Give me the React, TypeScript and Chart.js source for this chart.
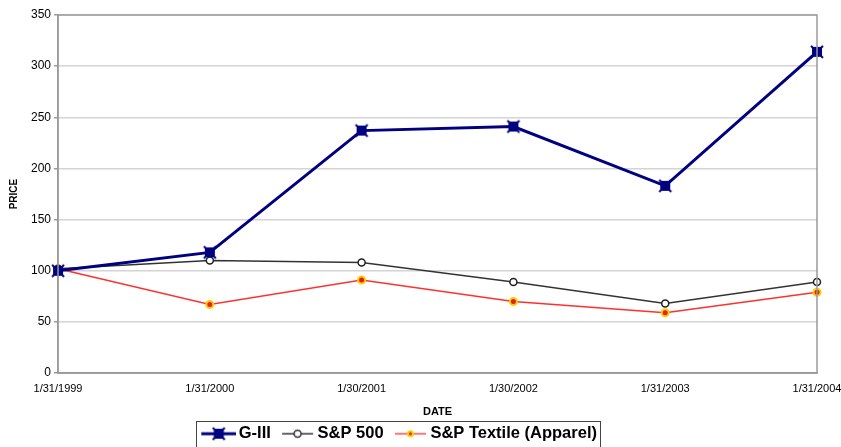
import React, { useEffect, useRef } from "react";
import { Chart, registerables } from "chart.js";

Chart.register(...registerables);

const categories = ["1/31/1999", "1/31/2000", "1/30/2001", "1/30/2002", "1/31/2003", "1/31/2004"];
const g3Values = [100, 118, 237, 241, 183, 314];
const sp500Values = [102, 110, 108, 89, 68, 89];
const textileValues = [102, 67, 91, 70, 59, 79];
const yTicks = [0, 50, 100, 150, 200, 250, 300, 350];

const NAVY = "#000080";

function drawG3Marker(ctx: CanvasRenderingContext2D, cx: number, cy: number) {
  ctx.fillStyle = NAVY;
  ctx.fillRect(cx - 5, cy - 5, 10, 10);
  ctx.strokeStyle = NAVY;
  ctx.lineWidth = 2;
  ctx.beginPath();
  ctx.moveTo(cx - 6, cy - 6); ctx.lineTo(cx + 6, cy + 6);
  ctx.moveTo(cx + 6, cy - 6); ctx.lineTo(cx - 6, cy + 6);
  ctx.stroke();
}

function g3Point(): HTMLCanvasElement {
  const c = document.createElement("canvas");
  c.width = 16; c.height = 16;
  drawG3Marker(c.getContext("2d")!, 8, 8);
  return c;
}

function legendIcon(kind: string): HTMLCanvasElement {
  const c = document.createElement("canvas");
  const w = 46, h = 16;
  c.width = w; c.height = h;
  const ctx = c.getContext("2d")!;
  const cy = h / 2;
  const x0 = 11, x1 = 46, mid = (x0 + x1) / 2;
  if (kind === "g3") {
    ctx.strokeStyle = NAVY; ctx.lineWidth = 3;
    ctx.beginPath(); ctx.moveTo(x0, cy); ctx.lineTo(x1, cy); ctx.stroke();
    drawG3Marker(ctx, mid, cy);
  } else if (kind === "sp") {
    ctx.strokeStyle = "#333333"; ctx.lineWidth = 1.5;
    ctx.beginPath(); ctx.moveTo(x0 + 2, cy); ctx.lineTo(x1 - 2, cy); ctx.stroke();
    ctx.fillStyle = "#ffffff";
    ctx.beginPath(); ctx.arc(mid, cy, 3.5, 0, Math.PI * 2); ctx.fill(); ctx.stroke();
  } else {
    ctx.strokeStyle = "#ff4a4a"; ctx.lineWidth = 1.5;
    ctx.beginPath(); ctx.moveTo(x0 + 2, cy); ctx.lineTo(x1 - 2, cy); ctx.stroke();
    ctx.fillStyle = "#ffcc00";
    ctx.beginPath(); ctx.arc(mid, cy, 3.5, 0, Math.PI * 2); ctx.fill();
    ctx.fillStyle = "#e02020";
    ctx.beginPath(); ctx.arc(mid, cy, 1.5, 0, Math.PI * 2); ctx.fill();
  }
  return c;
}

const framePlugin = {
  id: "frame",
  afterLayout(chart: any) {
    const lg = chart.legend;
    if (!lg) return;
    const dx = -16, dy = 1;
    lg.left += dx; lg.right += dx;
    lg.top += dy; lg.bottom += dy;
  },
  afterDatasetsDraw(chart: any) {
    const { ctx, chartArea } = chart;
    ctx.save();
    ctx.strokeStyle = "#9a9a9a";
    ctx.lineWidth = 1.5;
    ctx.strokeRect(chartArea.left, chartArea.top, chartArea.right - chartArea.left, chartArea.bottom - chartArea.top);
    ctx.restore();
  },
  afterDraw(chart: any) {
    const lg = chart.legend;
    if (!lg || !lg.legendHitBoxes || !lg.legendHitBoxes.length) return;
    const boxes = lg.legendHitBoxes;
    let l = Infinity, r = -Infinity, t = Infinity;
    for (const b of boxes) {
      l = Math.min(l, b.left);
      r = Math.max(r, b.left + b.width);
      t = Math.min(t, b.top);
    }
    const { ctx } = chart;
    ctx.save();
    ctx.strokeStyle = "#444444";
    ctx.lineWidth = 1;
    ctx.strokeRect(Math.round(l) + 0.5, Math.round(t - 5) + 0.5, Math.round(r - l + 3), 40);
    ctx.restore();
  },
};

export default function App() {
  const ref = useRef<HTMLCanvasElement>(null);
  useEffect(() => {
    document.body.style.margin = "0";
    const icons = [legendIcon("g3"), legendIcon("sp"), legendIcon("tx")];
    const chart = new Chart(ref.current!, {
      type: "line",
      data: {
        labels: categories,
        datasets: [
          {
            label: "G-III",
            data: g3Values,
            borderColor: NAVY,
            backgroundColor: NAVY,
            borderWidth: 3,
            pointStyle: g3Point() as any,
            pointRadius: 6,
            tension: 0,
          },
          {
            label: "S&P 500",
            data: sp500Values,
            borderColor: "#333333",
            backgroundColor: "#ffffff",
            borderWidth: 1.5,
            pointStyle: "circle",
            pointRadius: 3.5,
            pointBorderColor: "#222222",
            pointBackgroundColor: "#ffffff",
            pointBorderWidth: 1.5,
            tension: 0,
          },
          {
            label: "S&P Textile (Apparel)",
            data: textileValues,
            borderColor: "#ff3030",
            backgroundColor: "#e02020",
            borderWidth: 1.5,
            pointStyle: "circle",
            pointRadius: 3.5,
            pointBorderColor: "#ffcc00",
            pointBackgroundColor: "#e02020",
            pointBorderWidth: 2,
            tension: 0,
          },
        ],
      },
      options: {
        animation: false,
        responsive: false,
        layout: { padding: { top: 15, right: 24, left: 8, bottom: -4 } },
        plugins: {
          tooltip: { enabled: false },
          legend: {
            position: "bottom",
            labels: {
              usePointStyle: true,
              pointStyleWidth: 34.5,
              padding: 4,
              boxHeight: 16,
              color: "#000000",
              font: { family: "Liberation Sans, Arial, sans-serif", size: 16.5, weight: "bold" },
              generateLabels: (ch: any) =>
                ch.data.datasets.map((ds: any, i: number) => ({
                  text: ds.label,
                  pointStyle: icons[i],
                  fillStyle: "transparent",
                  strokeStyle: "transparent",
                  lineWidth: 0,
                  hidden: false,
                  datasetIndex: i,
                  fontColor: "#000000",
                })),
            },
          },
        },
        scales: {
          x: {
            type: "category",
            offset: false,
            afterFit: (scale: any) => {
              scale.paddingRight = 24;
              scale.paddingLeft = 0;
            },
            grid: { display: false, drawTicks: true, tickLength: 4, tickColor: "#9a9a9a" },
            border: { color: "#9a9a9a", width: 1.5 },
            ticks: {
              color: "#000000",
              maxRotation: 0,
              autoSkip: false,
              padding: 5,
              font: { family: "Liberation Sans Narrow, Liberation Sans, Arial, sans-serif", size: 11 },
            },
            title: {
              display: true,
              text: "DATE",
              color: "#000000",
              padding: { top: 5, bottom: 2 },
              font: { family: "Liberation Sans, Arial, sans-serif", size: 11, weight: "bold" },
            },
          },
          y: {
            min: 0,
            max: 350,
            afterBuildTicks: (axis: any) => {
              axis.ticks = yTicks.map((v) => ({ value: v }));
            },
            grid: { color: "#d4d4d4", lineWidth: 1.5, tickLength: 4, tickColor: "#9a9a9a" },
            border: { color: "#9a9a9a", width: 1.5 },
            ticks: {
              color: "#000000",
              padding: 3,
              font: { family: "Liberation Sans, Arial, sans-serif", size: 12 },
            },
            title: {
              display: true,
              text: "PRICE",
              color: "#000000",
              padding: { top: 0, bottom: 8 },
              font: { family: "Liberation Sans, Arial, sans-serif", size: 10, weight: "bold" },
            },
          },
        },
      },
      plugins: [framePlugin],
    });
    return () => chart.destroy();
  }, []);
  return (
    <div style={{ width: 841, height: 447 }}>
      <canvas ref={ref} width={841} height={447} style={{ width: 841, height: 447, display: "block" }} />
    </div>
  );
}
